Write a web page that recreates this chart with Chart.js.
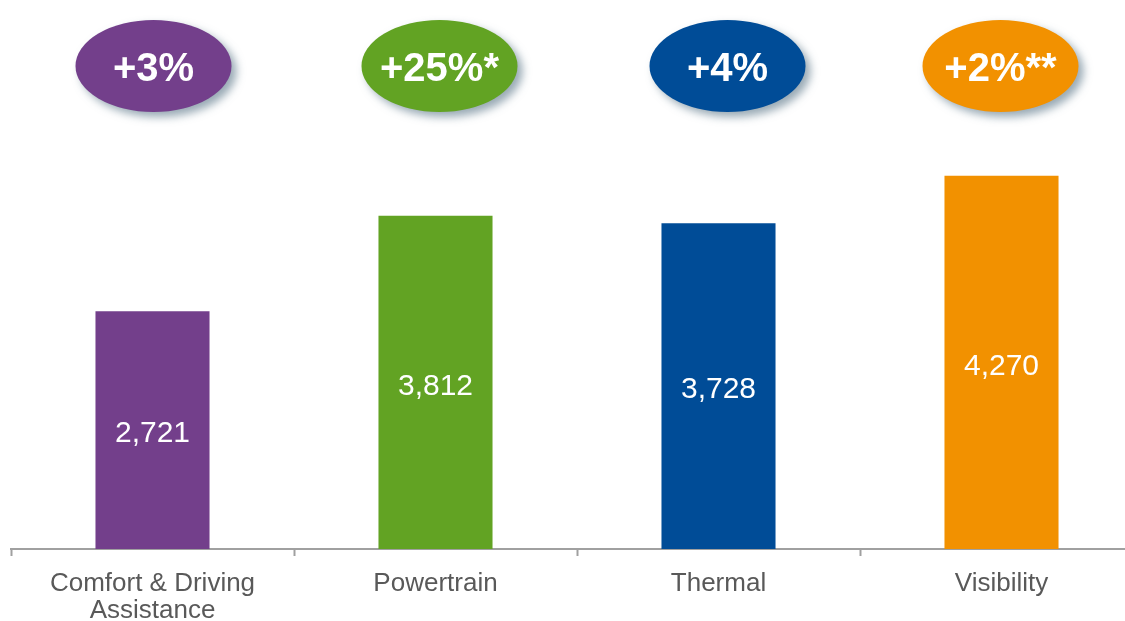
<!DOCTYPE html>
<html>
<head>
<meta charset="utf-8">
<script src="https://cdn.jsdelivr.net/npm/chart.js@4.4.1/dist/chart.umd.min.js"></script>
<style>
  html, body { margin: 0; padding: 0; background: #fff; overflow: hidden; }
  #wrap { position: relative; width: 1146px; height: 621px; }
</style>
</head>
<body>
<div id="wrap"><canvas id="sales-chart"></canvas></div>
<script>
// sales by business group, with growth bubbles on top

const categories = [["Comfort & Driving", "Assistance"], "Powertrain", "Thermal", "Visibility"];
const salesValues = [2721, 3812, 3728, 4270];
const growthLabels = ["+3%", "+25%*", "+4%", "+2%**"];
const barColors = ["#733F8B", "#62A323", "#004C97", "#F29100"];

// small nudges so the bubbles sit where the slide had them
const bubbleShift = [1, 4, 9, -1];

const FONT = "'Liberation Sans', Arial, sans-serif";

const labelsPlugin = {
  id: "barLabels",
  afterDatasetsDraw(chart) {
    const ctx = chart.ctx;
    const meta = chart.getDatasetMeta(0);
    ctx.save();
    ctx.fillStyle = "#ffffff";
    ctx.font = "30px " + FONT;
    ctx.textAlign = "center";
    ctx.textBaseline = "middle";
    meta.data.forEach((bar, i) => {
      const y = (bar.y + bar.base) / 2;
      ctx.fillText(salesValues[i].toLocaleString("en-US"), bar.x, y + 4);
    });
    ctx.restore();
  }
};

const bubblesPlugin = {
  id: "growthBubbles",
  afterDraw(chart) {
    const ctx = chart.ctx;
    const xs = chart.scales.x;
    const cy = 66;
    categories.forEach((c, i) => {
      const cx = xs.getPixelForValue(i) + bubbleShift[i];
      ctx.save();
      ctx.shadowColor = "rgba(70, 100, 120, 0.55)";
      ctx.shadowBlur = 8;
      ctx.shadowOffsetX = 5;
      ctx.shadowOffsetY = 5;
      ctx.fillStyle = barColors[i];
      ctx.beginPath();
      ctx.ellipse(cx, cy, 78, 46, 0, 0, Math.PI * 2);
      ctx.fill();
      ctx.restore();

      ctx.save();
      ctx.fillStyle = "#ffffff";
      ctx.font = "bold 40px " + FONT;
      ctx.textAlign = "center";
      ctx.textBaseline = "middle";
      ctx.fillText(growthLabels[i], cx, cy + 4);
      ctx.restore();
    });
  }
};

new Chart(document.getElementById("sales-chart"), {
  type: "bar",
  data: {
    labels: categories,
    datasets: [
      {
        label: "Sales",
        data: salesValues,
        backgroundColor: barColors,
        categoryPercentage: 1,
        barPercentage: 0.403
      }
    ]
  },
  options: {
    responsive: true,
    maintainAspectRatio: false,
    animation: false,
    layout: { padding: { top: 112, left: 11, right: 3, bottom: 0 } },
    plugins: { legend: { display: false }, tooltip: { enabled: false } },
    scales: {
      x: {
        grid: {
          display: true,
          offset: true,
          drawOnChartArea: false,
          drawTicks: true,
          tickLength: 7,
          tickWidth: 2,
          color: "#a0a0a0"
        },
        border: { display: true, color: "#a0a0a0", width: 2 },
        ticks: {
          color: "#595959",
          font: { family: FONT, size: 26, lineHeight: 1.05 },
          padding: 14,
          maxRotation: 0,
          autoSkip: false
        },
        afterFit(scale) { scale.height = 72; }
      },
      y: {
        display: false,
        min: 0,
        max: 5000
      }
    }
  },
  plugins: [labelsPlugin, bubblesPlugin]
});
</script>
</body>
</html>
